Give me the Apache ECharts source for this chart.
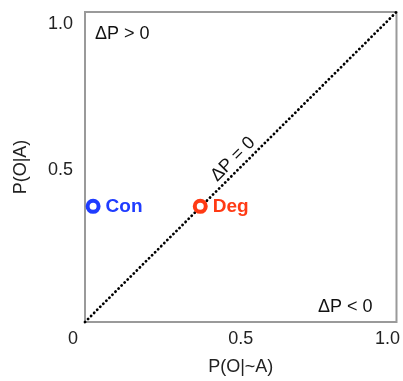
<!DOCTYPE html>
<html>
<head>
<meta charset="utf-8">
<script src="https://cdn.jsdelivr.net/npm/echarts@6/dist/echarts.min.js"></script>
<style>
  html, body { margin: 0; padding: 0; background: #fff; }
  #chart { width: 403px; height: 381px; }
</style>
</head>
<body>
<div id="chart"></div>
<script>
// points in contingency space: [P(O|~A), P(O|A)]
const names = ['Con', 'Deg'];
const pOnotA = [0.026, 0.37];
const pOA = [0.373, 0.373];
const colors = ['#1f3cff', '#ff3a14'];
const diagonal = [[0, 0], [1, 1]];
const xTicks = { 0: '{lo|0}', 0.5: '0.5', 1: '{hi|1.0}' };
const yTicks = { 0: '', 0.5: '{mid|0.5}', 1: '{top|1.0}' };

const font = 'Liberation Sans, Arial, Helvetica, sans-serif';
const tickText = { fontFamily: font, fontSize: 18, color: '#222' };

const chart = echarts.init(document.getElementById('chart'));

const option = {
  animation: false,
  grid: {
    left: 85, right: 6, top: 12, bottom: 58,
    show: true, borderColor: '#9a9a9a', borderWidth: 2, backgroundColor: '#fff'
  },
  xAxis: {
    type: 'value', min: 0, max: 1, interval: 0.5,
    name: 'P(O|~A)', nameLocation: 'middle', nameGap: 36,
    nameTextStyle: { fontFamily: font, fontSize: 18, color: '#222' },
    axisLine: { show: false }, axisTick: { show: false }, splitLine: { show: false },
    axisLabel: Object.assign({}, tickText, {
      margin: 8,
      alignMinLabel: 'right', alignMaxLabel: 'center',
      formatter: v => xTicks[v],
      rich: {
        lo: Object.assign({ padding: [0, 7, 0, 0] }, tickText),
        hi: Object.assign({ padding: [0, 18, 0, 0] }, tickText)
      }
    })
  },
  yAxis: {
    type: 'value', min: 0, max: 1, interval: 0.5,
    name: 'P(O|A)', nameLocation: 'middle', nameGap: 55,
    nameTextStyle: { fontFamily: font, fontSize: 18, color: '#222' },
    axisLine: { show: false }, axisTick: { show: false }, splitLine: { show: false },
    axisLabel: Object.assign({}, tickText, {
      margin: 12,
      formatter: v => yTicks[v],
      rich: {
        top: Object.assign({ padding: [24, 0, 0, 0] }, tickText),
        mid: Object.assign({ padding: [6, 0, 0, 0] }, tickText)
      }
    })
  },
  graphic: [
    // title sits above the picture; only its descenders show
    { type: 'text', left: 100, top: -30, z: 0,
      style: { text: 'Contingency space', font: 'bold 28px ' + font, fill: '#000' } },
    { type: 'text', left: 95, top: 25,
      style: { text: 'ΔP > 0', font: '18px ' + font, fill: '#111' } },
    { type: 'text', left: 318, top: 298,
      style: { text: 'ΔP < 0', font: '18px ' + font, fill: '#111' } }
  ],
  series: [
    {
      type: 'line',
      data: [],
      markLine: {
        silent: true, symbol: 'none',
        lineStyle: { color: '#000', width: 2.8, type: [0.1, 4.2], cap: 'round' },
        label: {
          show: true, position: 'middle', formatter: 'ΔP = 0', distance: 2,
          fontFamily: font, fontSize: 18, color: '#111'
        },
        data: [[{ coord: diagonal[0] }, { coord: diagonal[1] }]]
      }
    },
    {
      type: 'scatter',
      symbol: 'circle', symbolSize: 11,
      z: 5,
      data: names.map((n, i) => ({
        name: n,
        value: [pOnotA[i], pOA[i]],
        itemStyle: { color: '#fff', borderColor: colors[i], borderWidth: 4, opacity: 1 },
        label: {
          show: true, position: 'right', distance: 5, formatter: n,
          fontFamily: font, fontSize: 19, fontWeight: 'bold', color: colors[i]
        }
      }))
    }
  ]
};

chart.setOption(option);
</script>
</body>
</html>
